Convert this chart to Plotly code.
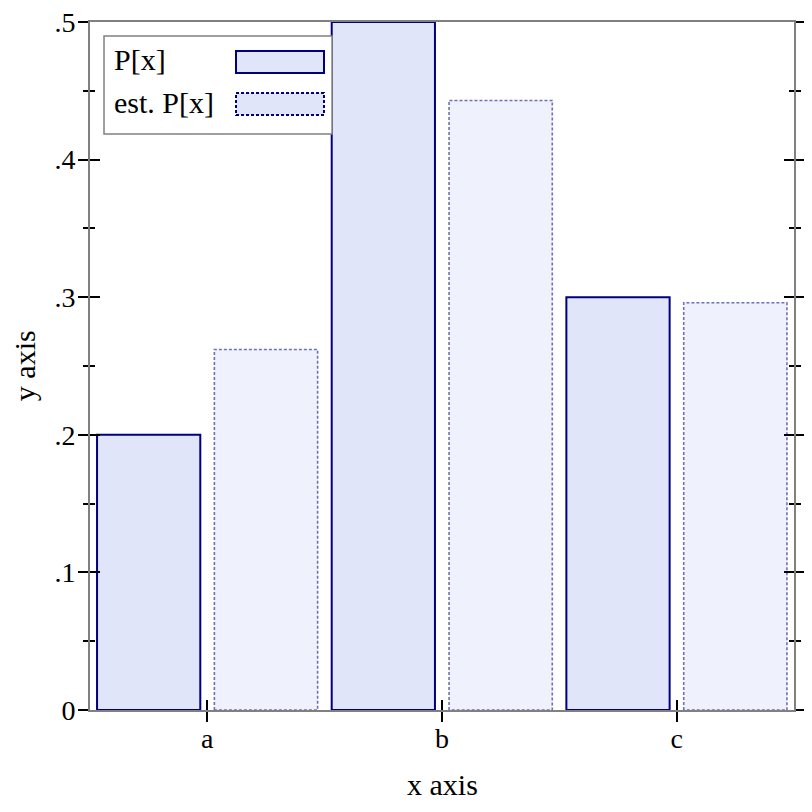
import plotly.graph_objects as go

categories = ["a", "b", "c"]
p_values = [0.2, 0.5, 0.3]
est_values = [0.262, 0.443, 0.296]
series_names = ["P[x]", "est. P[x]"]
y_tick_vals = [0, 0.1, 0.2, 0.3, 0.4, 0.5]
y_tick_text = ["0", ".1", ".2", ".3", ".4", ".5"]
y_minor_vals = [0.05, 0.15, 0.25, 0.35, 0.45]

FONT = "Liberation Serif"
FS = 30
NAVY = "#00007f"
P_FILL = "#e0e5fa"
EST_FILL = "#eff1fd"
EST_LINE = "rgba(0,0,127,0.55)"
BAR_W = 0.44

idx = list(range(len(categories)))
p_x = [i - 0.25 for i in idx]
e_x = [i + 0.25 for i in idx]

fig = go.Figure()
fig.add_trace(go.Bar(x=p_x, y=p_values, width=BAR_W, name=series_names[0],
                     marker=dict(color=P_FILL, line=dict(color=NAVY, width=2)),
                     showlegend=False, hoverinfo="skip"))
fig.add_trace(go.Bar(x=e_x, y=est_values, width=BAR_W, name=series_names[1],
                     marker=dict(color=EST_FILL, line=dict(width=0)),
                     showlegend=False, hoverinfo="skip"))
# dashed outlines for estimated bars
for xc, v in zip(e_x, est_values):
    xl, xr = xc - BAR_W / 2, xc + BAR_W / 2
    fig.add_trace(go.Scatter(x=[xl, xl, xr, xr, xl], y=[0, v, v, 0, 0], mode="lines",
                             line=dict(color=EST_LINE, width=1.6, dash="3px,2px"),
                             showlegend=False, hoverinfo="skip"))
# carrier for overlay axes (inside ticks)
fig.add_trace(go.Scatter(x=[None], y=[None], xaxis="x2", yaxis="y2", showlegend=False))

axis_font = dict(family=FONT, size=FS, color="black")
tick_font = dict(family=FONT, size=FS - 2, color="black")
common_y = dict(range=[0, 0.5], tickmode="array", tickvals=y_tick_vals, showgrid=False,
                zeroline=False, tickcolor="black", tickwidth=2, ticklen=10,
                automargin=False, ticklabeloverflow="allow")
fig.update_layout(
    width=812, height=812,
    margin=dict(l=82, r=26, t=14, b=110),
    paper_bgcolor="white", plot_bgcolor="white",
    barmode="overlay",
    font=axis_font,
    xaxis=dict(range=[-0.5, 2.5], tickmode="array", tickvals=idx, ticktext=categories,
               ticks="outside", ticklen=10, tickwidth=2, tickcolor="black",
               showline=True, linecolor="#808080", linewidth=2, mirror=True,
               showgrid=False, zeroline=False, tickfont=tick_font, automargin=False,
               ticklabelstandoff=-8),
    xaxis2=dict(range=[-0.5, 2.5], overlaying="x", anchor="y", side="bottom",
                tickmode="array", tickvals=idx, ticks="inside", ticklen=10, tickwidth=2,
                tickcolor="black", showticklabels=False, showline=False,
                showgrid=False, zeroline=False, automargin=False),
    yaxis=dict(**common_y, ticktext=y_tick_text, ticks="outside", mirror="allticks",
               showline=True, linecolor="#808080", linewidth=2, tickfont=tick_font,
               ticklabelstandoff=-3,
               minor=dict(tickmode="array", tickvals=y_minor_vals, ticks="outside",
                          ticklen=5, tickwidth=1.5, tickcolor="black", showgrid=False)),
    yaxis2=dict(**common_y, overlaying="y", anchor="x", side="left", ticks="inside",
                mirror="allticks", showticklabels=False, showline=False,
                minor=dict(tickmode="array", tickvals=y_minor_vals, ticks="inside",
                           ticklen=5, tickwidth=1.5, tickcolor="black", showgrid=False)),
)

# axis titles
fig.add_annotation(text="x axis", xref="paper", yref="paper", x=0.5, y=-0.109,
                   showarrow=False, font=axis_font, xanchor="center", yanchor="middle")
fig.add_annotation(text="y axis", xref="paper", yref="paper", x=-0.0935, y=0.5,
                   showarrow=False, font=axis_font, textangle=-90,
                   xanchor="center", yanchor="middle")

# legend (text left, swatch right)
fig.add_shape(type="rect", xref="paper", yref="paper", x0=0.0199, x1=0.3438,
              y0=0.8372, y1=0.9797, line=dict(color="#808080", width=1.5),
              fillcolor="white", layer="above")
fig.add_shape(type="rect", xref="paper", yref="paper", x0=0.2074, x1=0.3324,
              y0=0.9259, y1=0.9578, line=dict(color=NAVY, width=2),
              fillcolor=P_FILL, layer="above")
fig.add_shape(type="rect", xref="paper", yref="paper", x0=0.2074, x1=0.3324,
              y0=0.8648, y1=0.8968, line=dict(color=NAVY, width=2, dash="3px,2px"),
              fillcolor=P_FILL, layer="above")
fig.add_annotation(text=series_names[0], xref="paper", yref="paper", x=0.0312, y=0.9448,
                   showarrow=False, font=axis_font, xanchor="left", yanchor="middle")
fig.add_annotation(text=series_names[1], xref="paper", yref="paper", x=0.0312, y=0.8837,
                   showarrow=False, font=axis_font, xanchor="left", yanchor="middle")

fig.write_html("out.html")
